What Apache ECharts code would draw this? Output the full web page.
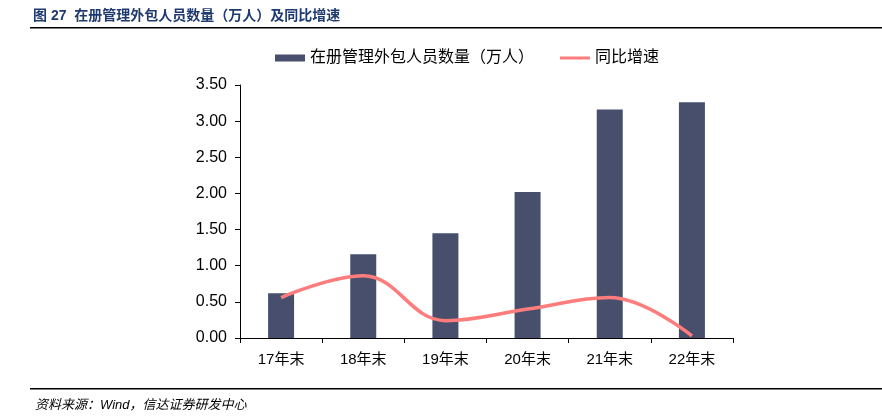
<!DOCTYPE html>
<html><head><meta charset="utf-8">
<script src="https://cdn.jsdelivr.net/npm/echarts@6/dist/echarts.min.js"></script>
<style>html,body{margin:0;padding:0;background:#fff}#c{width:882px;height:419px}</style>
</head><body><div id="c"></div>
<script>
const categories = ['17年末','18年末','19年末','20年末','21年末','22年末'];
const staffCount = [0.62, 1.16, 1.45, 2.02, 3.16, 3.26];
const growthRate = [0.56, 0.86, 0.24, 0.40, 0.56, 0.03];
const yTicks = {min: 0, max: 3.5, interval: 0.5};

const font = '"Liberation Sans", "Noto Sans CJK SC", sans-serif';
const chart = echarts.init(document.getElementById('c'), null, {renderer: 'canvas'});
chart.setOption({
  animation: false,
  backgroundColor: '#fff',
  textStyle: {fontFamily: font},
  grid: {left: 240, right: 149, top: 85, bottom: 81, containLabel: false},
  legend: {
    top: 45, left: 270, itemGap: 26, itemWidth: 30, itemHeight: 7,
    textStyle: {fontSize: 16, color: '#000', fontFamily: font},
    data: [{name: '在册管理外包人员数量（万人）', icon: 'rect'}, {name: '同比增速', icon: 'path://M0,0 L10,0 L10,1 L0,1 Z'}]
  },
  xAxis: {
    type: 'category', data: categories, boundaryGap: true,
    axisLine: {lineStyle: {color: '#000', width: 1}},
    axisTick: {show: true, length: 5, lineStyle: {color: '#000'}},
    axisLabel: {fontSize: 15, color: '#000', margin: 14, fontFamily: font}
  },
  yAxis: {
    type: 'value', min: yTicks.min, max: yTicks.max, interval: yTicks.interval,
    axisLine: {show: true, lineStyle: {color: '#000', width: 1}},
    axisTick: {show: true, length: 5, lineStyle: {color: '#000'}},
    splitLine: {show: false},
    axisLabel: {fontSize: 16, color: '#000', margin: 13, formatter: v => v.toFixed(2), fontFamily: font}
  },
  series: [
    {name: '在册管理外包人员数量（万人）', type: 'bar', data: staffCount, barWidth: 26,
     itemStyle: {color: '#474F6D'}},
    {name: '同比增速', type: 'line', data: growthRate, smooth: 0.4, symbol: 'none',
     lineStyle: {color: '#FF7C7C', width: 3.5}, itemStyle: {color: '#FF7C7C'}}
  ],
  graphic: [
    {type: 'text', left: 33, top: 9, style: {text: '图 27  在册管理外包人员数量（万人）及同比增速', fontSize: 14, fontWeight: 'bold', fill: '#1F3A6E', fontFamily: font}},
    {type: 'rect', shape: {x: 30, y: 27, width: 852, height: 1.5}, style: {fill: '#000'}},
    {type: 'rect', shape: {x: 30, y: 388, width: 852, height: 1.5}, style: {fill: '#000'}},
    {type: 'text', left: 35, top: 399, style: {text: '资料来源：Wind，信达证券研发中心', fontSize: 13, fontStyle: 'italic', fill: '#000', fontFamily: font}}
  ]
});
</script></body></html>
